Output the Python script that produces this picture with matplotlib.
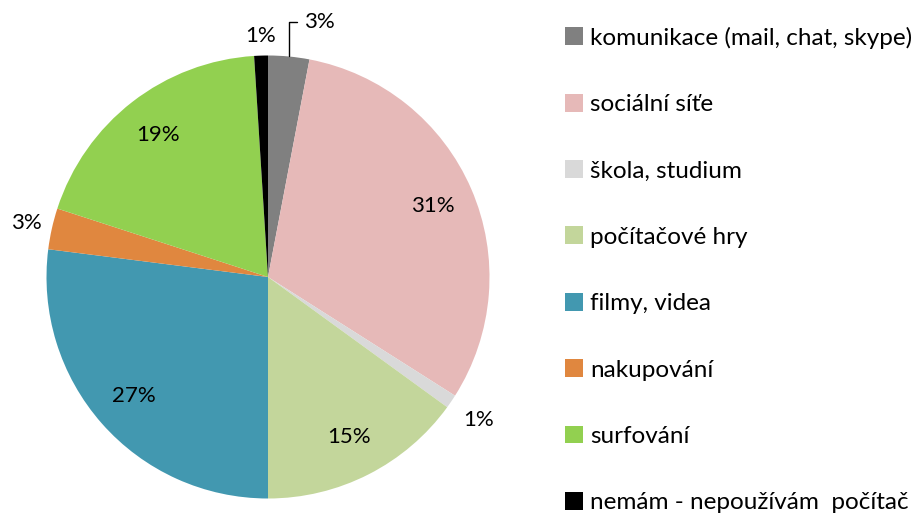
import matplotlib
matplotlib.use("Agg")
import matplotlib.pyplot as plt
import numpy as np

plt.rcParams['font.family'] = ['Lato', 'DejaVu Sans']

labels = ["komunikace (mail, chat, skype)", "sociální síťe", "škola, studium",
          "počítačové hry", "filmy, videa", "nakupování", "surfování",
          "nemám - nepoužívám  počítač"]
values = [3, 31, 1, 15, 27, 3, 19, 1]
colors = ["#808080", "#E6B9B8", "#D9D9D9", "#C3D69B", "#4298B0", "#E0873F",
          "#92D050", "#000000"]
# label distance from centre (fraction of radius)
lab_r = [None, 0.81, 1.15, 0.81, 0.81, 1.12, 0.81, 1.09]

fig = plt.figure(figsize=(9.2, 5.19), dpi=100)
ax = fig.add_axes([268/920 - 221.5/920, 1 - 277/519 - 221.5/519, 443/920, 443/519])

wedges, _ = ax.pie(values, colors=colors, startangle=90, counterclock=False,
                   radius=1, wedgeprops=dict(linewidth=0))
ax.set_xlim(-1, 1)
ax.set_ylim(-1, 1)
ax.set_aspect('equal')
ax.axis('off')

fs = 16
for i, w in enumerate(wedges):
    ang = np.deg2rad((w.theta1 + w.theta2) / 2)
    txt = "%d%%" % values[i]
    if lab_r[i] is None:
        # leader line label
        p = (np.cos(ang), np.sin(ang))
        ax.annotate(txt, xy=p, xytext=(p[0] + 0.07, p[1] + 0.155),
                    fontsize=fs, ha='left', va='center',
                    arrowprops=dict(arrowstyle='-', color='black', lw=1,
                                    connectionstyle="angle,angleA=0,angleB=90,rad=0",
                                    shrinkA=3, shrinkB=0),
                    annotation_clip=False)
    else:
        r = lab_r[i]
        ax.text(r * np.cos(ang), r * np.sin(ang), txt, fontsize=fs,
                ha='center', va='center')

leg = fig.legend(wedges, labels, loc='upper left', bbox_to_anchor=(555/920, 1 - 17/519),
                 frameon=False, fontsize=17.5, handlelength=0.75, handleheight=0.75,
                 handletextpad=0.3, labelspacing=1.85, borderaxespad=0)

fig.savefig("out.png", dpi=100)
